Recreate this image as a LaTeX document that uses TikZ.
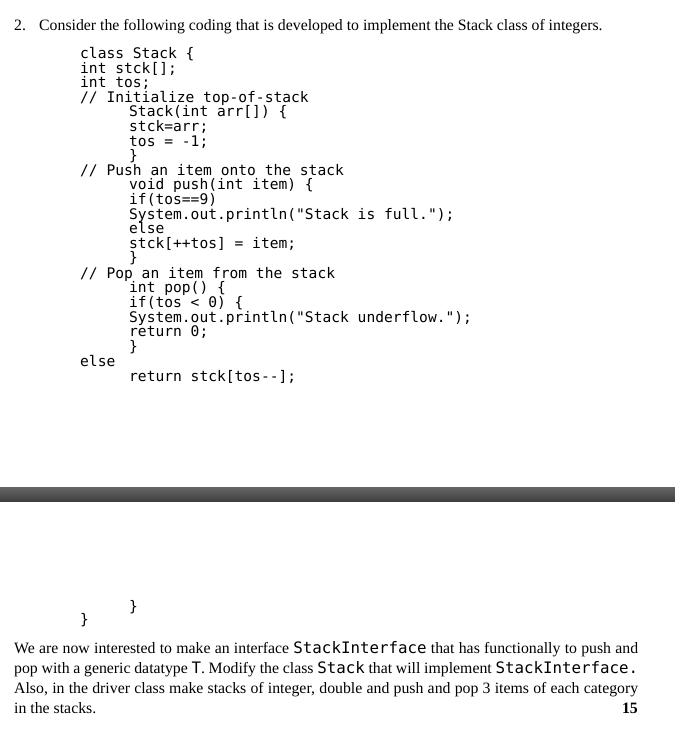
\documentclass[tikz,border=0pt]{standalone}
\usepackage{fontspec}
\setmainfont{Liberation Serif}
\setmonofont{DejaVu Sans Mono}
\begin{document}
\begin{tikzpicture}[x=1pt,y=-1pt,
 code/.style={anchor=base west,inner sep=0pt,font=\fontsize{14.6}{15}\ttfamily},
 txt/.style={anchor=base west,inner sep=0pt,font=\fontsize{15.8}{17}\selectfont}]
\useasboundingbox (0,0) rectangle (675,732);
\fill[white] (0,0) rectangle (675,732);
\node[txt] (t0) at (14,30) {2.};
\node[txt] (t1) at (39,30) {Consider the following coding that is developed to implement the Stack class of integers.};
\foreach \y/\x/\s [count=\i] in {
58/80/{class Stack \{},
73/80/{int stck[];},
87/80/{int tos;},
102/80/{// Initialize top-of-stack},
116/129/{Stack(int arr[]) \{},
131/129/{stck=arr;},
146/129/{tos = -1;},
160/129/{\}},
175/80/{// Push an item onto the stack},
189/129/{void push(int item) \{},
204/129/{if(tos==9)},
219/129/{System.out.println("Stack is full.");},
233/129/{else},
248/129/{stck[++tos] = item;},
262/129/{\}},
278/80/{// Pop an item from the stack},
292/129/{int pop() \{},
307/129/{if(tos < 0) \{},
322/129/{System.out.println("Stack underflow.");},
336/129/{return 0;},
351/129/{\}},
366/80/{else},
381/129/{return stck[tos--];},
611/129/{\}},
624/80/{\}}}
 \node[code] (c\i) at (\x,\y) {\s};
\shade[top color=gray!80!black,bottom color=black!75] (0,487) rectangle (675,501);
\node[txt] (p1) at (14,653) {\makebox[624pt][s]{We are now interested to make an interface \texttt{StackInterface} that has functionally to push and}};
\node[txt] (p2) at (14,673) {\makebox[624pt][s]{pop with a generic datatype \texttt{T}. Modify the class \texttt{Stack} that will implement \texttt{StackInterface.}}};
\node[txt] (p3) at (14,693) {\makebox[624pt][s]{Also, in the driver class make stacks of integer, double and push and pop 3 items of each category}};
\node[txt] (p4) at (14,713) {in the stacks.};
\node[txt,anchor=base east,font=\fontsize{15.8}{17}\bfseries] (n15) at (638,713) {15};
\end{tikzpicture}
\end{document}
